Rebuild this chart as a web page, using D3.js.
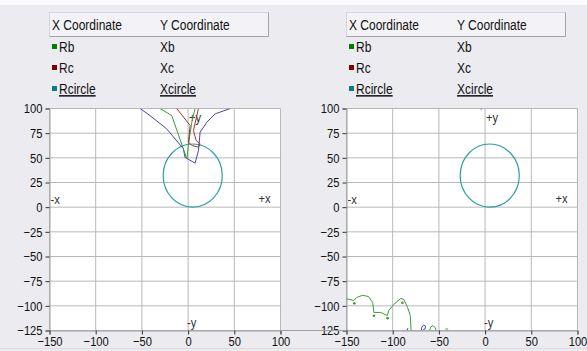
<!DOCTYPE html>
<html>
<head>
<meta charset="utf-8">
<script src="https://cdn.jsdelivr.net/npm/d3@7"></script>
<style>
    body { margin: 0; background: #ebebf0; overflow: hidden; }
    #chart-area { width: 587px; height: 351px; }
    text { font-family: "Liberation Sans", Arial, sans-serif; fill: #111; }
    .tick text { font-size: 13px; }
    .legend text { font-size: 15px; }
    .marker { font-size: 13px; fill: #333; }
</style>
</head>
<body>
<div id="chart-area"></div>
<script>

// axis ticks
let xTicks = [-150, -100, -50, 0, 50, 100];
let yTicks = [100, 75, 50, 25, 0, -25, -50, -75, -100, -125];

// legend
let legendX = ["Rb", "Rc", "Rcircle"];
let legendY = ["Xb", "Xc", "Xcircle"];

// circle (same in both panels): centre x, centre y, radius
let circleCentre = [5, 32];
let circleRadius = 32;

// left panel traces (null = gap in the line)
let leftBlue = [[-52, 100], [-41.3, 92.9], [-23.2, 79.4], [-5.1, 59.2], [-3.3, 50.4], [7.6, 44.6],
    [11.2, 57.4], [13, 76], [20.3, 86.1], [29.3, 94.6], [45.7, 100]];
let leftGreen = [[-30.4, 100], [-17.7, 92.9], [-1.4, 49], [0.3, 62.5], [4, 86.1], [7.6, 100]];
let leftRed = [[-12.3, 100], [2.2, 82.8], [0.3, 65.9], [4.3, 62.5], [11.2, 60.8], [13, 64.2],
    [8.7, 67.6], [5.8, 77.7], [11.2, 100]];

// right panel traces
let rightGreen = [[-150, -92.8], [-142.1, -94.5], [-139.1, -91.6], [-132.6, -89.3], [-126.1, -90.6],
    [-121.7, -96.7], [-120.3, -106.7], [-113, -106.7], [-105.8, -109.8], [-104.3, -104.8],
    [-98.9, -98.6], [-91.3, -92.5], [-88, -93.5], [-84, -101.3], [-81, -109.8], [-80.1, -125],
    null,
    [-60, -125], [-59, -121.5], [-56.5, -120], [-54, -122], [-53, -125],
    null,
    [-43, -123.5], [-40, -123.5]];
let rightGreenDots = [[-141.5, -97.5], [-120.3, -110], [-105.5, -112.5], [-89.5, -97]];
let rightBlue = [[-84.5, -125], [-83.5, -122.5],
    null,
    [-69, -125], [-68.5, -121.5], [-66.5, -119.5], [-64.5, -120.5], [-65, -123.5], [-67, -124],
    null,
    [-4.3, 100], [-4.3, 98.8]];
let rightRed = [];

let colors = { green: "#3a9d3a", red: "#a03434", blue: "#4646b0", circle: "#2aa0a0" };
let legendColors = ["#008000", "#800000", "#008080"];

// the original uses a narrow face; squeeze Liberation Sans sideways
function squeeze(sel, k) {
    sel.each(function() {
        let t = d3.select(this);
        let x = +t.attr("x") || 0;
        t.attr("x", x / k).attr("transform", "scale(" + k + ",1)");
    });
}


/*
 * CoordPanel - one of the two side-by-side plots
 */

class CoordPanel {

    constructor(_svg, _offset, _id, _green, _red, _blue, _dots) {
        this.svg = _svg;
        this.offset = _offset;
        this.id = _id;
        this.green = _green;
        this.red = _red;
        this.blue = _blue;
        this.dots = _dots;

        this.initVis();
    }

    initVis() {
        let vis = this;

        vis.g = vis.svg.append("g")
            .attr("transform", "translate(" + vis.offset + ",0)");

        vis.x = d3.scaleLinear().domain([-150, 100]).range([49.5, 280.5]);
        vis.y = d3.scaleLinear().domain([-125, 100]).range([330.5, 108.5]);

        // legend header
        let lg = vis.g.append("g").attr("class", "legend");
        lg.append("rect")
            .attr("x", 49.5).attr("y", 12.5)
            .attr("width", 219).attr("height", 24)
            .attr("fill", "#f3f3f7")
            .attr("stroke", "#d6d6da");
        lg.append("path")
            .attr("d", "M268.5,12.5V36.5H49.5")
            .attr("fill", "none")
            .attr("stroke", "#a4a4a8");
        lg.append("text").attr("x", 52).attr("y", 30).text("X Coordinate");
        lg.append("text").attr("x", 160).attr("y", 30).text("Y Coordinate");

        let rows = lg.selectAll(".row")
            .data(legendX)
            .enter().append("g")
            .attr("class", "row")
            .attr("transform", (d, i) => "translate(0," + (52 + i * 21) + ")");

        rows.append("rect")
            .attr("x", 52).attr("y", -8)
            .attr("width", 5).attr("height", 5)
            .attr("fill", (d, i) => legendColors[i]);
        rows.append("text")
            .attr("x", 59)
            .attr("text-decoration", (d, i) => i == 2 ? "underline" : null)
            .text(d => d);
        rows.append("text")
            .attr("x", 160)
            .attr("text-decoration", (d, i) => i == 2 ? "underline" : null)
            .text((d, i) => legendY[i]);

        squeeze(lg.selectAll("text"), 0.8);

        // plot background
        vis.g.append("rect")
            .attr("x", vis.x(-150)).attr("y", vis.y(100))
            .attr("width", vis.x(100) - vis.x(-150))
            .attr("height", vis.y(-125) - vis.y(100))
            .attr("fill", "#fff");

        // grid
        vis.g.append("g").selectAll("line")
            .data(xTicks)
            .enter().append("line")
            .attr("x1", d => vis.x(d)).attr("x2", d => vis.x(d))
            .attr("y1", vis.y(100)).attr("y2", vis.y(-125))
            .attr("stroke", "#b8b8b8");
        vis.g.append("g").selectAll("line")
            .data(yTicks)
            .enter().append("line")
            .attr("x1", vis.x(-150)).attr("x2", vis.x(100))
            .attr("y1", d => vis.y(d)).attr("y2", d => vis.y(d))
            .attr("stroke", "#b8b8b8");

        // axes
        let yAxis = vis.g.append("g")
            .attr("transform", "translate(" + vis.x(-150) + ",0)")
            .call(d3.axisLeft(vis.y).tickValues(yTicks).tickSize(4).tickPadding(3));
        let xAxis = vis.g.append("g")
            .attr("transform", "translate(0," + vis.y(-125) + ")")
            .call(d3.axisBottom(vis.x).tickValues(xTicks).tickSize(4).tickPadding(2));
        [xAxis, yAxis].forEach(a => {
            a.select(".domain").attr("stroke", "#a0a0a0");
            a.selectAll(".tick line").attr("stroke", "#333");
            a.selectAll(".tick text").attr("fill", "#111").call(squeeze, 0.86);
        });

        // axis direction markers
        let markers = [["+y", 0, 100, 1, 14], ["-y", 0, -125, -1, -3], ["-x", -150, 0, 1, -3], ["+x", 100, 0, -22, -4]];
        vis.g.selectAll(".marker")
            .data(markers)
            .enter().append("text")
            .attr("class", "marker")
            .attr("x", d => vis.x(d[1]) + d[3])
            .attr("y", d => vis.y(d[2]) + d[4])
            .text(d => d[0])
            .call(squeeze, 0.86);

        vis.g.append("clipPath")
            .attr("id", "clip" + vis.id)
            .append("rect")
            .attr("x", vis.x(-150)).attr("y", vis.y(100))
            .attr("width", vis.x(100) - vis.x(-150))
            .attr("height", vis.y(-125) - vis.y(100));

        vis.plot = vis.g.append("g").attr("clip-path", "url(#clip" + vis.id + ")");

        vis.updateVis();
    }

    updateVis() {
        let vis = this;

        let line = d3.line()
            .defined(d => d != null)
            .x(d => vis.x(d[0]))
            .y(d => vis.y(d[1]));

        // circle trace
        vis.plot.append("ellipse")
            .attr("cx", vis.x(circleCentre[0]))
            .attr("cy", vis.y(circleCentre[1]))
            .attr("rx", vis.x(circleRadius) - vis.x(0))
            .attr("ry", vis.y(0) - vis.y(circleRadius))
            .attr("fill", "none")
            .attr("stroke", colors.circle)
            .attr("stroke-width", 1.2);

        [[vis.blue, colors.blue], [vis.green, colors.green], [vis.red, colors.red]].forEach(s => {
            if (s[0].length == 0) return;
            vis.plot.append("path")
                .datum(s[0])
                .attr("d", line)
                .attr("fill", "none")
                .attr("stroke", s[1])
                .attr("stroke-width", 1);
        });

        vis.plot.selectAll(".dot")
            .data(vis.dots)
            .enter().append("circle")
            .attr("class", "dot")
            .attr("cx", d => vis.x(d[0]))
            .attr("cy", d => vis.y(d[1]))
            .attr("r", 1.3)
            .attr("fill", colors.green);
    }
}


let svg = d3.select("#chart-area").append("svg")
    .attr("width", 587)
    .attr("height", 351);

svg.append("rect")
    .attr("width", 587).attr("height", 5)
    .attr("fill", "#fbfbfc");

let leftPanel = new CoordPanel(svg, 0, "L", leftGreen, leftRed, leftBlue, []);
let rightPanel = new CoordPanel(svg, 297, "R", rightGreen, rightRed, rightBlue, rightGreenDots);

// baseline running under both plots
svg.append("line")
    .attr("x1", 280).attr("x2", 346)
    .attr("y1", 330.5).attr("y2", 330.5)
    .attr("stroke", "#a0a0a0");
svg.append("line")
    .attr("x1", 0).attr("x2", 587)
    .attr("y1", 348.5).attr("y2", 348.5)
    .attr("stroke", "#dcdce0");

</script>
</body>
</html>
